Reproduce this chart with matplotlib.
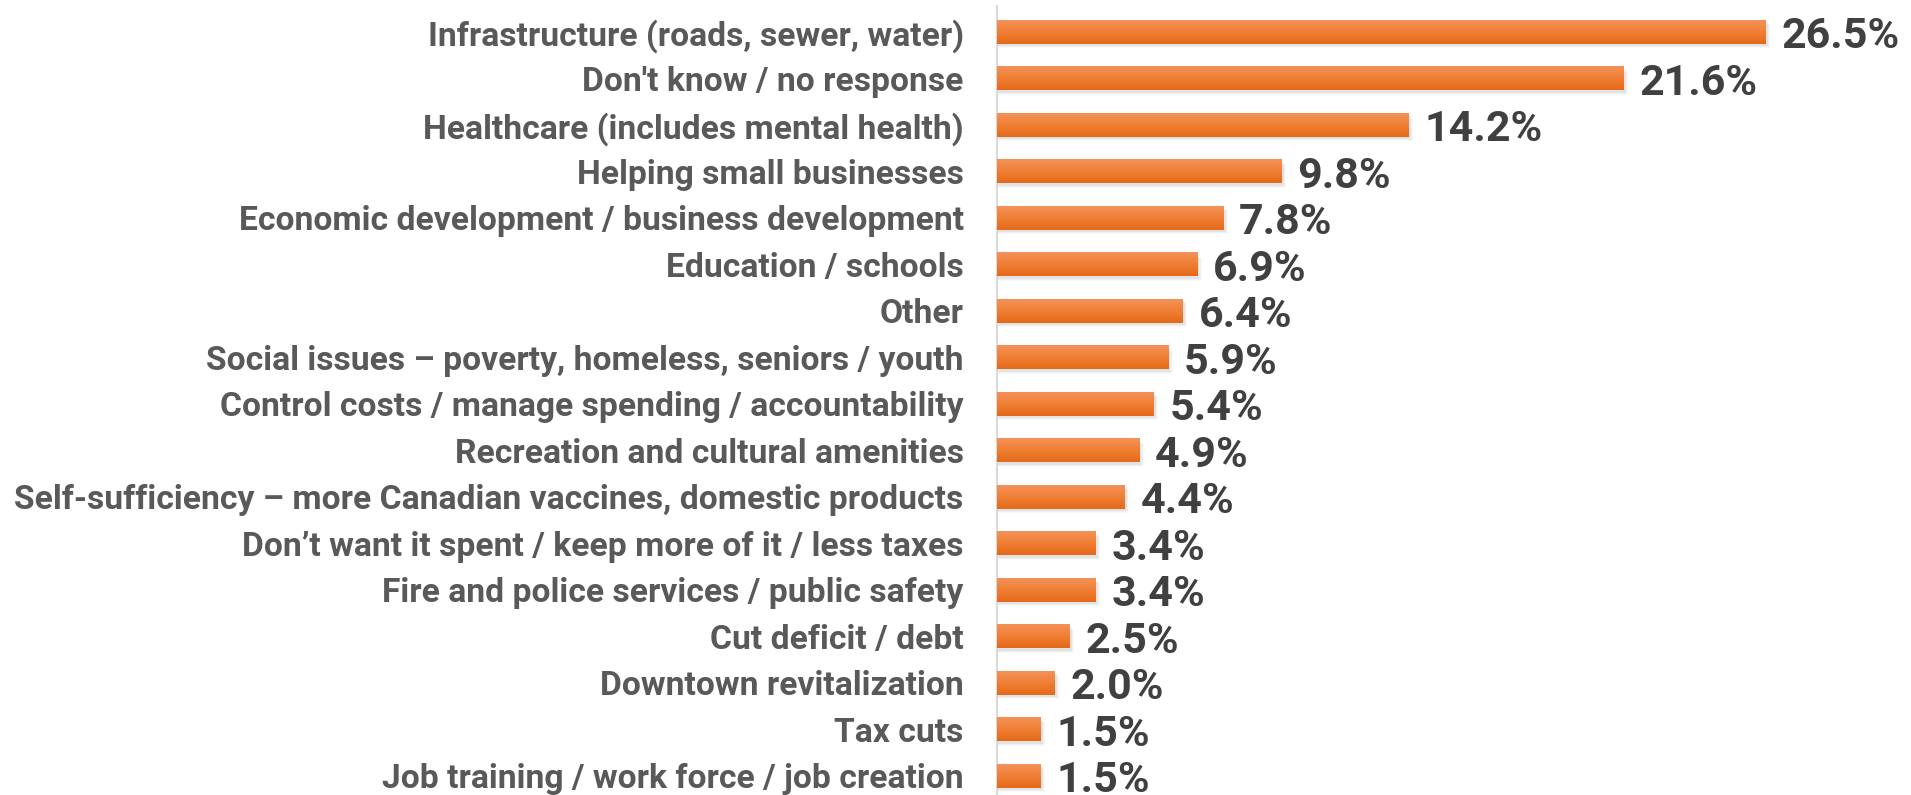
import numpy as np
import matplotlib
matplotlib.use("Agg")
import matplotlib.pyplot as plt
from matplotlib import font_manager
from matplotlib.colors import LinearSegmentedColormap

categories = [
    "Infrastructure (roads, sewer, water)",
    "Don't know / no response",
    "Healthcare (includes mental health)",
    "Helping small businesses",
    "Economic development / business development",
    "Education / schools",
    "Other",
    "Social issues \u2013 poverty, homeless, seniors / youth",
    "Control costs / manage spending / accountability",
    "Recreation and cultural amenities",
    "Self-sufficiency \u2013 more Canadian vaccines, domestic products",
    "Don\u2019t want it spent / keep more of it / less taxes",
    "Fire and police services / public safety",
    "Cut deficit / debt",
    "Downtown revitalization",
    "Tax cuts",
    "Job training / work force / job creation",
]
values = [26.5, 21.6, 14.2, 9.8, 7.8, 6.9, 6.4, 5.9, 5.4, 4.9, 4.4, 3.4, 3.4, 2.5, 2.0, 1.5, 1.5]

names = {f.name for f in font_manager.fontManager.ttflist}
font = "Roboto" if "Roboto" in names else "Liberation Sans"
plt.rcParams['font.family'] = [font, 'DejaVu Sans']

W, H = 1911, 795
fig = plt.figure(figsize=(W / 100, H / 100), dpi=100)
ax = fig.add_axes([997 / W, 0, 870 / W, (795 - 6) / H])

y = np.arange(len(categories))
bh = 0.5

# soft shadow under the bars
for k, a in enumerate([0.10, 0.07, 0.04]):
    ax.barh(y + 0.06 + 0.02 * k, np.array(values) + 0.08 + 0.04 * k, height=bh,
            left=0.0, color="#7f7f7f", alpha=a, linewidth=0, zorder=1)

bars = ax.barh(y, values, height=bh, color="#ED7D31", linewidth=0, zorder=2)

# vertical gradient inside each bar
cmap = LinearSegmentedColormap.from_list("og", ["#F4915A", "#F07F34", "#E4691A"])
grad = np.linspace(0, 1, 64).reshape(-1, 1)
for b in bars:
    x0, y0 = b.get_x(), b.get_y()
    ax.imshow(grad, cmap=cmap, aspect="auto", zorder=3,
              extent=[x0, x0 + b.get_width(), y0 + b.get_height(), y0])

for yi, v in zip(y, values):
    ax.text(v + 0.55, yi + 0.1, f"{v:.1f}%", va="center", ha="left",
            fontsize=31, fontweight="bold", color="#404040", zorder=4)

ax.set_xlim(0, 30)
ax.set_ylim(16 + 19 / 46.5, -26 / 46.5)
ax.set_yticks(y)
ax.set_yticklabels(categories, fontsize=24.2, fontweight="bold", color="#595959")
ax.tick_params(axis="y", length=0, pad=24)
ax.set_xticks([])
for s in ["top", "right", "bottom"]:
    ax.spines[s].set_visible(False)
ax.spines["left"].set_color("#D9D9D9")
ax.spines["left"].set_linewidth(1.5)

fig.savefig("out.png", dpi=100)
